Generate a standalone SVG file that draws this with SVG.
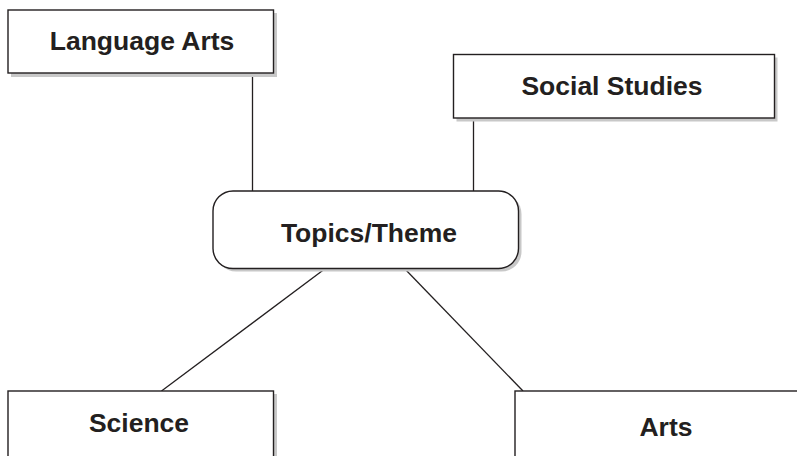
<svg xmlns="http://www.w3.org/2000/svg" width="797" height="456" viewBox="0 0 797 456">
<style>
.box{fill:#fff;stroke:#231f20;stroke-width:1.4}
.sh{fill:#c8c8c8}
.t{font-family:"Liberation Sans",Arial,sans-serif;font-weight:bold;font-size:26.5px;fill:#231f20;text-anchor:middle}
.c{stroke:#231f20;stroke-width:1.3;fill:none}
</style>
<rect width="797" height="456" fill="#fff"/>
<g id="connectors">
<line class="c" x1="252.5" y1="73" x2="252.5" y2="191"/>
<line class="c" x1="473.5" y1="118" x2="473.5" y2="191"/>
<line class="c" x1="326" y1="268" x2="161.5" y2="391"/>
<line class="c" x1="404" y1="268" x2="523" y2="391"/>
</g>
<g id="language-arts">
<rect class="sh" x="11" y="13" width="266" height="64"/>
<rect class="box" x="8" y="10" width="265.5" height="63"/>
<text class="t" x="142" y="49.5">Language Arts</text>
</g>
<g id="social-studies">
<rect class="sh" x="456.5" y="57.5" width="321" height="64"/>
<rect class="box" x="453.5" y="54.5" width="321" height="63.5"/>
<text class="t" x="612" y="95">Social Studies</text>
</g>
<g id="topics-theme">
<rect class="sh" x="216" y="194" width="305.5" height="77.5" rx="20"/>
<rect class="box" x="213" y="191" width="305.5" height="77.5" rx="20"/>
<text class="t" x="369" y="241.5">Topics/Theme</text>
</g>
<g id="science">
<rect class="sh" x="11" y="394" width="266" height="70"/>
<rect class="box" x="8" y="391" width="265.5" height="70"/>
<text class="t" x="139" y="432">Science</text>
</g>
<g id="arts">
<rect class="sh" x="518" y="394" width="290" height="70"/>
<rect class="box" x="515" y="391" width="290" height="70"/>
<text class="t" x="666" y="436">Arts</text>
</g>
</svg>
